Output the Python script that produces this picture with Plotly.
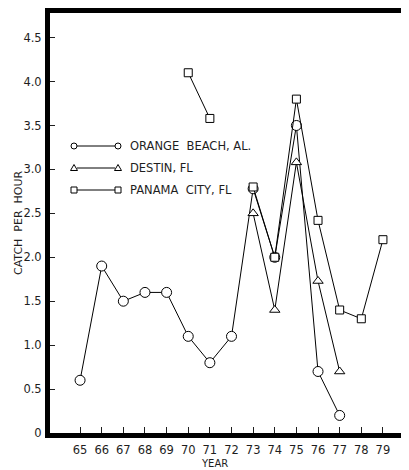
import plotly.graph_objects as go

years_orange = [65, 66, 67, 68, 69, 70, 71, 72, 73, 74, 75, 76, 77]
orange_beach = [0.6, 1.9, 1.5, 1.6, 1.6, 1.1, 0.8, 1.1, 2.78, 2.0, 3.5, 0.7, 0.2]

years_destin = [73, 74, 75, 76, 77]
destin = [2.5, 1.4, 3.08, 1.73, 0.7]

years_panama = [70, 71, 72, 73, 74, 75, 76, 77, 78, 79]
panama_city = [4.1, 3.58, None, 2.8, 2.0, 3.8, 2.42, 1.4, 1.3, 2.2]

x_ticks = list(range(65, 80))
x_labels = [str(v) for v in x_ticks]
y_ticks = [0, 0.5, 1.0, 1.5, 2.0, 2.5, 3.0, 3.5, 4.0, 4.5]
y_labels = ["0", "0.5", "1.0", "1.5", "2.0", "2.5", "3.0", "3.5", "4.0", "4.5"]

series_names = ["ORANGE  BEACH, AL.", "DESTIN, FL", "PANAMA  CITY, FL"]

FONT = "DejaVu Sans"
INK = "#1e1e1e"

OFF = 8  # browser body margin
PLOT_L, PLOT_R, PLOT_T, PLOT_B = 50, 405, 13, 433
PW, PH = PLOT_R - PLOT_L, PLOT_B - PLOT_T


def px(x):
    return (x - PLOT_L) / PW


def py(y):
    return (PLOT_B - y) / PH


fig = go.Figure()
common_line = dict(color="black", width=1)

fig.add_trace(go.Scatter(
    x=years_orange, y=orange_beach, mode="lines+markers", name=series_names[0],
    line=common_line,
    marker=dict(symbol="circle", size=10, color="white", line=dict(color="black", width=1)),
))
fig.add_trace(go.Scatter(
    x=years_destin, y=destin, mode="lines+markers", name=series_names[1],
    line=common_line,
    marker=dict(symbol="triangle-up", size=9, color="white", line=dict(color="black", width=1)),
))
fig.add_trace(go.Scatter(
    x=years_panama, y=panama_city, mode="lines+markers", name=series_names[2],
    line=common_line, connectgaps=False,
    marker=dict(symbol="square", size=8, color="white", line=dict(color="black", width=1)),
))

shapes = []
annotations = []

# custom legend (keys with a marker at each end of the line)
leg_rows = [146, 168, 190]
lx0, lx1, ltext = 74, 118, 128
r = 3
for i, (yy, name) in enumerate(zip(leg_rows, series_names)):
    shapes.append(dict(type="line", xref="paper", yref="paper",
                       x0=px(lx0 + r), x1=px(lx1 - r), y0=py(yy), y1=py(yy),
                       line=dict(color="black", width=1)))
    for cx in (lx0, lx1):
        if i == 0:
            shapes.append(dict(type="circle", xref="paper", yref="paper",
                               x0=px(cx - r), x1=px(cx + r), y0=py(yy + r), y1=py(yy - r),
                               line=dict(color="black", width=1), fillcolor="white"))
        elif i == 1:
            path = "M {a},{b} L {c},{d} L {e},{f} Z".format(
                a=px(cx - r - 0.5), b=py(yy + r - 0.5), c=px(cx + r + 0.5), d=py(yy + r - 0.5),
                e=px(cx), f=py(yy - r - 0.5))
            shapes.append(dict(type="path", xref="paper", yref="paper", path=path,
                               line=dict(color="black", width=1), fillcolor="white"))
        else:
            shapes.append(dict(type="rect", xref="paper", yref="paper",
                               x0=px(cx - r), x1=px(cx + r), y0=py(yy + r), y1=py(yy - r),
                               line=dict(color="black", width=1), fillcolor="white"))
    annotations.append(dict(text=name, xref="paper", yref="paper", x=px(ltext), y=py(yy),
                            xanchor="left", yanchor="middle", showarrow=False,
                            font=dict(family=FONT, size=11.5, color=INK)))

annotations.append(dict(text="YEAR", xref="paper", yref="paper", x=0.5, y=0, xanchor="center",
                        yanchor="bottom", xshift=-13, yshift=-36.5, showarrow=False, borderpad=0,
                        font=dict(family=FONT, size=10, color=INK)))
annotations.append(dict(text="CATCH  PER  HOUR", xref="paper", yref="paper", x=0, y=0.5,
                        xanchor="center", yanchor="middle", xshift=-32, textangle=-90,
                        showarrow=False, font=dict(family=FONT, size=11, color=INK)))

frame = dict(showline=True, linecolor="black", linewidth=5, mirror=True)

fig.update_layout(
    width=409, height=470,
    margin=dict(l=PLOT_L - OFF, r=409 + OFF - PLOT_R, t=PLOT_T - OFF, b=470 + OFF - PLOT_B),
    paper_bgcolor="white", plot_bgcolor="white",
    font=dict(family=FONT, color=INK, size=11),
    showlegend=False,
    xaxis=dict(
        range=[63.61, 80.02], tickvals=x_ticks, ticktext=x_labels,
        showgrid=False, zeroline=False, automargin=False, **frame,
        ticks="inside", ticklen=6, tickwidth=1, tickcolor=INK, ticklabelstandoff=2,
        tickfont=dict(family=FONT, size=11.5, color=INK),
    ),
    yaxis=dict(
        range=[0, 4.78], tickvals=y_ticks, ticktext=y_labels,
        showgrid=False, zeroline=False, automargin=False, **frame,
        ticks="inside", ticklen=5, tickwidth=1, tickcolor=INK, ticklabelstandoff=1,
        tickfont=dict(family=FONT, size=11.5, color=INK),
    ),
    shapes=shapes,
    annotations=annotations,
)

fig.write_html("out.html")
